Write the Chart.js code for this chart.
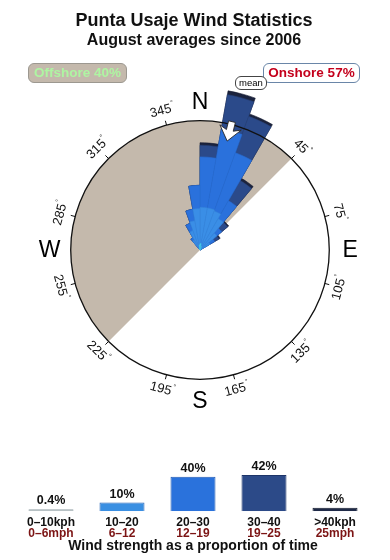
<!DOCTYPE html>
<html>
<head>
<meta charset="utf-8">
<script src="https://cdn.jsdelivr.net/npm/chart.js@4.4.1/dist/chart.umd.min.js"></script>
<style>
  body { margin: 0; width: 390px; height: 560px; background: #fff; position: relative; overflow: hidden;
         font-family: "Liberation Sans", Arial, sans-serif; }
  canvas { position: absolute; left: 0; }
  #rose { top: 0; }
  #bars { top: 440px; }
  .title { position: absolute; left: 0; width: 388px; text-align: center; font-weight: bold; color: #111; }
  .box { position: absolute; box-sizing: border-box; border-radius: 6px; font-weight: bold; text-align: center; }
</style>
</head>
<body>
<canvas id="rose" width="390" height="440"></canvas>
<canvas id="bars" width="390" height="120"></canvas>

<div class="title" style="top:10px;font-size:18px;line-height:20px">Punta Usaje Wind Statistics</div>
<div class="title" style="top:31px;font-size:16px;line-height:18px">August averages since 2006</div>
<div class="box" style="left:28px;top:63px;width:99px;height:20px;line-height:18px;font-size:13.5px;background:#c4b9ac;border:1px solid #9c9890;color:#aef5a2">Offshore 40%</div>
<div class="box" style="left:263px;top:63px;width:97px;height:20px;line-height:18px;font-size:13.5px;background:#fff;border:1px solid #6a86a8;color:#c4001c">Onshore 57%</div>
<div class="box" style="left:235px;top:76px;width:32px;height:14px;line-height:12px;font-size:9.5px;font-weight:normal;background:#fff;border:1px solid #444;color:#000">mean</div>

<script>
// 10 degree sectors, first one 0-10 (clockwise from north)
const sectors = Array.from({ length: 36 }, (_, i) => i * 10 + '°');

// radial share per sector and speed band (rings are stacked outward)
const kph0_10 = [0.5, 0.3, 0.2, 0, 0, 0,  0, 0, 0, 0, 0, 0,  0, 0, 0, 0, 0, 0,
                 0, 0, 0, 0, 0, 0,  0, 0, 0, 0, 0, 0,  0, 0, 0, 0, 0, 0.4];
const kph10_20 = [2.8, 3.0, 3.0, 2.8, 1.7, 0.9,  0, 0, 0, 0, 0, 0,  0, 0, 0, 0, 0, 0,
                  0, 0, 0, 0, 0, 0,  0, 0, 0, 0, 0, 0,  0, 0, 0.9, 1.6, 2.3, 2.8];
const kph20_30 = [3.9, 6.2, 4.8, 1.6, 0.5, 0.4,  0, 0, 0, 0, 0, 0,  0, 0, 0, 0, 0, 0,
                  0, 0, 0, 0, 0, 0,  0, 0, 0, 0, 0, 0,  0, 0, 0.2, 0.6, 0.9, 1.8];
const kph30_40 = [0.9, 2.7, 3.0, 1.8, 0.6, 0.4,  0, 0, 0, 0, 0, 0,  0, 0, 0, 0, 0, 0,
                  0, 0, 0, 0, 0, 0,  0, 0, 0, 0, 0, 0,  0, 0, 0, 0, 0, 0];
const kph40up = [0.2, 0.3, 0.2, 0.2, 0.1, 0.1,  0, 0, 0, 0, 0, 0,  0, 0, 0, 0, 0, 0,
                 0, 0, 0, 0, 0, 0,  0, 0, 0, 0, 0, 0,  0, 0, 0, 0, 0, 0];

const ringValue = 10;              // the compass circle
const offshoreFrom = 225, offshoreTo = 405;
const meanDirection = 14;
const degreeTicks = [45, 75, 105, 135, 165, 195, 225, 255, 285, 315, 345];
const compass = ['N', 'E', 'S', 'W'];

// legend bars
const kphLabels = ['0–10kph', '10–20', '20–30', '30–40', '>40kph'];
const mphLabels = ['0–6mph', '6–12', '12–19', '19–25', '25mph'];
const strengthShare = [0.4, 10, 40, 42, 4];

const bandColors = ['#4fd6f2', '#3a8ee6', '#2a71dc', '#2b4a8a', '#1b233e'];
const bandBorders = ['#3cc0e0', '#3585da', '#276bd2', '#26417a', '#151b30'];

Chart.defaults.font.family = '"Liberation Sans", Arial, sans-serif';

const FONT = '"Liberation Sans", Arial, sans-serif';
const rad = d => d * Math.PI / 180;
function at(s, bearing, dist) {
  const a = rad(bearing - 90);
  return { x: s.xCenter + Math.cos(a) * dist, y: s.yCenter + Math.sin(a) * dist };
}

// cumulative rings, smallest first so it ends on top
const bands = [kph0_10, kph10_20, kph20_30, kph30_40, kph40up];
const running = new Array(36).fill(0);
const roseSets = bands.map((band, b) => {
  band.forEach((v, i) => running[i] += v);
  return {
    data: running.map(v => +v.toFixed(2)),
    backgroundColor: bandColors[b],
    borderColor: bandBorders[b],
    borderWidth: 0.6
  };
});

const compassPlugin = {
  id: 'compass',
  beforeDatasetsDraw(chart) {
    const s = chart.scales.r, ctx = chart.ctx;
    const r = s.getDistanceFromCenterForValue(ringValue);
    ctx.save();
    ctx.beginPath();
    ctx.moveTo(s.xCenter, s.yCenter);
    ctx.arc(s.xCenter, s.yCenter, r, rad(offshoreFrom - 90), rad(offshoreTo - 90));
    ctx.closePath();
    ctx.fillStyle = '#c4b9ac';
    ctx.fill();
    ctx.restore();
  },
  afterDatasetsDraw(chart) {
    const s = chart.scales.r, ctx = chart.ctx;
    const r = s.getDistanceFromCenterForValue(ringValue);
    ctx.save();

    ctx.beginPath();
    ctx.arc(s.xCenter, s.yCenter, r, 0, Math.PI * 2);
    ctx.lineWidth = 1.3;
    ctx.strokeStyle = '#111';
    ctx.stroke();

    // mean arrow
    ctx.save();
    ctx.translate(s.xCenter, s.yCenter);
    ctx.rotate(rad(meanDirection));
    ctx.beginPath();
    ctx.moveTo(0, -r + 17);
    ctx.lineTo(11, -r + 3);
    ctx.lineTo(3.5, -r + 6);
    ctx.lineTo(3.5, -r - 3);
    ctx.lineTo(-3.5, -r - 3);
    ctx.lineTo(-3.5, -r + 6);
    ctx.lineTo(-11, -r + 3);
    ctx.closePath();
    ctx.fillStyle = '#fff';
    ctx.fill();
    ctx.lineWidth = 0.8;
    ctx.strokeStyle = '#222';
    ctx.stroke();
    ctx.restore();

    ctx.fillStyle = '#111';
    ctx.textAlign = 'center';
    ctx.textBaseline = 'middle';
    degreeTicks.forEach(b => {
      const p1 = at(s, b, r), p2 = at(s, b, r + 4.5);
      ctx.beginPath();
      ctx.moveTo(p1.x, p1.y);
      ctx.lineTo(p2.x, p2.y);
      ctx.lineWidth = 1;
      ctx.stroke();

      const p = at(s, b, r + 15);
      const rot = (b > 90 && b < 270) ? b - 180 : b;
      ctx.save();
      ctx.translate(p.x, p.y);
      ctx.rotate(rad(rot));
      ctx.font = '13px ' + FONT;
      const txt = String(b);
      const w = ctx.measureText(txt).width;
      ctx.fillText(txt, -2, 0);
      ctx.font = '7px ' + FONT;
      ctx.fillText('°', w / 2, -5);
      ctx.restore();
    });

    ctx.font = '23px ' + FONT;
    ctx.fillStyle = '#000';
    compass.forEach((c, i) => {
      const p = at(s, i * 90, r + 21);
      ctx.fillText(c, p.x, p.y + (i === 0 ? 3 : 1));
    });
    ctx.restore();
  }
};

new Chart(document.getElementById('rose'), {
  type: 'polarArea',
  data: { labels: sectors, datasets: roseSets },
  options: {
    responsive: false,
    animation: false,
    events: [],
    startAngle: 0,
    layout: { padding: { left: 19, right: 9, top: 69, bottom: 9 } },
    scales: {
      r: { display: false, min: 0, max: 14, startAngle: 0 }
    },
    plugins: { legend: { display: false }, tooltip: { enabled: false } }
  },
  plugins: [compassPlugin]
});

const shareLabels = {
  id: 'shareLabels',
  afterDatasetsDraw(chart) {
    const ctx = chart.ctx;
    const x = chart.scales.x;
    ctx.save();
    ctx.textAlign = 'center';
    ctx.font = 'bold 12.5px ' + FONT;
    ctx.fillStyle = '#111';
    ctx.textBaseline = 'bottom';
    chart.getDatasetMeta(0).data.forEach((bar, i) => {
      ctx.fillText(strengthShare[i] + '%', bar.x, bar.y - 2);
    });
    // mph line under the kph ticks
    ctx.font = 'bold 12px ' + FONT;
    ctx.fillStyle = '#7c1414';
    ctx.textBaseline = 'middle';
    mphLabels.forEach((m, i) => {
      ctx.fillText(m, x.getPixelForValue(i), chart.chartArea.bottom + 22);
    });
    ctx.restore();
  }
};

new Chart(document.getElementById('bars'), {
  type: 'bar',
  data: {
    labels: kphLabels,
    datasets: [{
      data: strengthShare,
      backgroundColor: ['#a9b5b9', '#3a8fe2', '#2a72dc', '#2c4a88', '#1f2a48'],
      borderColor: ['#95a3a8', '#2a66b8', '#1f5ab4', '#1d3468', '#11182c'],
      borderWidth: 1,
      minBarLength: 2,
      categoryPercentage: 1,
      barPercentage: 0.634
    }]
  },
  options: {
    responsive: false,
    animation: false,
    events: [],
    layout: { padding: { left: 15.5, right: 19.5, top: 28, bottom: 5.6 } },
    scales: {
      x: {
        grid: { display: false, drawTicks: false },
        border: { display: false },
        ticks: { color: '#111', padding: 4, maxRotation: 0, autoSkip: false,
                 font: { size: 12, weight: 'bold' } },
        title: { display: true, text: 'Wind strength as a proportion of time', color: '#111',
                 font: { size: 14, weight: 'bold' }, padding: { top: 14.6, bottom: 0 } }
      },
      y: { display: false, min: 0, max: 50 }
    },
    plugins: { legend: { display: false }, tooltip: { enabled: false } }
  },
  plugins: [shareLabels]
});
</script>
</body>
</html>
